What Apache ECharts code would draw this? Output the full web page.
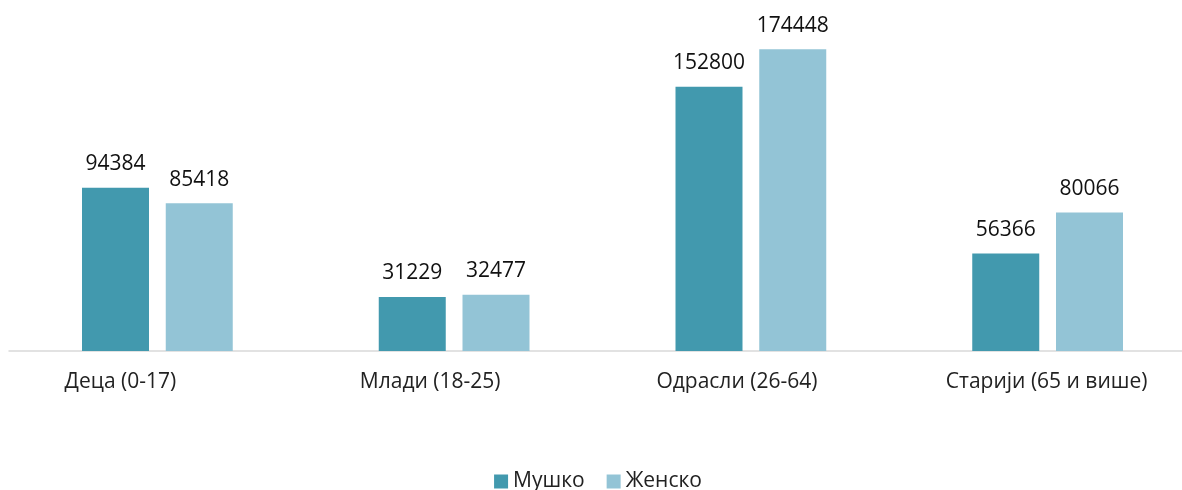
<!DOCTYPE html>
<html>
<head>
<meta charset="utf-8">
<script src="https://cdn.jsdelivr.net/npm/echarts@6/dist/echarts.min.js"></script>
<style>
  html, body { margin: 0; padding: 0; background: #fff; overflow: hidden; }
  /* the plot area of the original runs past the right edge */
  #chart { width: 1196px; height: 490px; }
</style>
</head>
<body>
<div id="chart"></div>
<script>
// категорије и вредности
const categories = ['Деца (0-17)', 'Млади (18-25)', 'Одрасли (26-64)', 'Старији (65 и више)']
const seriesNames = ['Мушко', 'Женско']
const maleValues = [94384, 31229, 152800, 56366]
const femaleValues = [85418, 32477, 174448, 80066]

const font = 'Open Sans'
// labels in the original sit a bit left of their groups
const labelShift = [74, 48, 28, 2]

const chart = echarts.init(document.getElementById('chart'))

const valueLabel = {
  show: true,
  position: 'top',
  distance: 13,
  fontFamily: font,
  fontSize: 21,
  color: '#111',
}

chart.setOption({
  animation: false,
  color: ['#4299AE', '#93C4D6'],
  textStyle: { fontFamily: font },
  grid: { left: 9, right: 0, top: 5, bottom: 139, containLabel: false },
  legend: {
    bottom: -7,
    left: 'center',
    itemWidth: 14,
    itemHeight: 14,
    itemGap: 22,
    icon: 'rect',
    textStyle: { fontFamily: font, fontSize: 21, color: '#222' },
    data: seriesNames,
  },
  xAxis: {
    type: 'category',
    data: categories,
    axisLine: { lineStyle: { color: '#D9D9D9', width: 1.5 } },
    axisTick: { show: false },
    axisLabel: {
      margin: 21,
      formatter: (v, i) => '{s' + i + '|' + v + '}',
      rich: Object.fromEntries(labelShift.map((p, i) => ['s' + i, {
        fontFamily: font, fontSize: 21, color: '#222', padding: [0, p, 0, 0],
      }])),
    },
  },
  yAxis: {
    type: 'value',
    min: 0,
    max: 200000,
    show: false,
    splitLine: { show: false },
  },
  series: [
    {
      name: seriesNames[0],
      type: 'bar',
      data: maleValues,
      barWidth: 67,
      barGap: '25%',
      label: valueLabel,
    },
    {
      name: seriesNames[1],
      type: 'bar',
      data: femaleValues,
      barWidth: 67,
      label: valueLabel,
    },
  ],
})
</script>
</body>
</html>
